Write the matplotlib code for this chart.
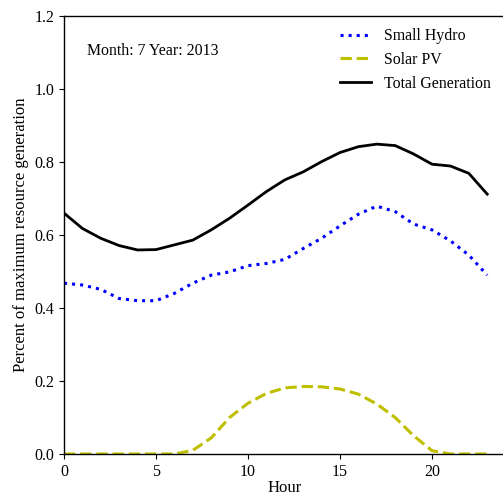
import matplotlib

matplotlib.use("Agg")
import matplotlib.pyplot as plt

hours = list(range(24))
small_hydro = [0.468, 0.463, 0.451, 0.426, 0.420, 0.420, 0.440, 0.468, 0.490, 0.499,
               0.516, 0.522, 0.533, 0.563, 0.591, 0.625, 0.657, 0.679, 0.664, 0.630,
               0.614, 0.584, 0.545, 0.490]
solar_pv = [0.0, 0.0, 0.0, 0.0, 0.0, 0.0, 0.0, 0.010, 0.044, 0.100,
            0.139, 0.166, 0.181, 0.185, 0.184, 0.178, 0.164, 0.137, 0.100, 0.050,
            0.009, 0.0, 0.0, 0.0]
total_generation = [0.660, 0.618, 0.591, 0.571, 0.559, 0.560, 0.573, 0.586, 0.614, 0.646,
                    0.682, 0.719, 0.751, 0.773, 0.801, 0.826, 0.842, 0.849, 0.845, 0.822,
                    0.794, 0.789, 0.769, 0.712]

plt.rcParams.update({
    "font.family": ["Liberation Serif", "DejaVu Serif"],
    "font.size": 12,
    "xtick.labelsize": 11.5,
    "ytick.labelsize": 11.5,
    "axes.linewidth": 1.0,
})

fig = plt.figure(figsize=(5.03, 4.96), dpi=100)
ax = fig.add_axes([0.1272, 0.0847, 0.878, 0.883])

ax.plot(hours, small_hydro, color="blue", linestyle=":", linewidth=2.2, label="Small Hydro")
ax.plot(hours, solar_pv, color="y", linestyle="--", linewidth=2.2, label="Solar PV")
ax.plot(hours, total_generation, color="black", linewidth=2.0, label="Total Generation")

ax.set_xlim(0, 24)
ax.set_ylim(0, 1.2)
ax.set_xticks([0, 5, 10, 15, 20])
ax.set_yticks([0.0, 0.2, 0.4, 0.6, 0.8, 1.0, 1.2])
ax.set_xlabel("Hour", labelpad=0)
ax.set_ylabel("Percent of maximum resource generation")
ax.text(0.052, 0.92, "Month: 7 Year: 2013", transform=ax.transAxes, va="center", ha="left",
        fontsize=11.4)
ax.legend(loc="upper left", bbox_to_anchor=(0.592, 1.005), frameon=False,
          handlelength=2.0, fontsize=11.4)

fig.savefig("out.png", dpi=100, facecolor="white")
